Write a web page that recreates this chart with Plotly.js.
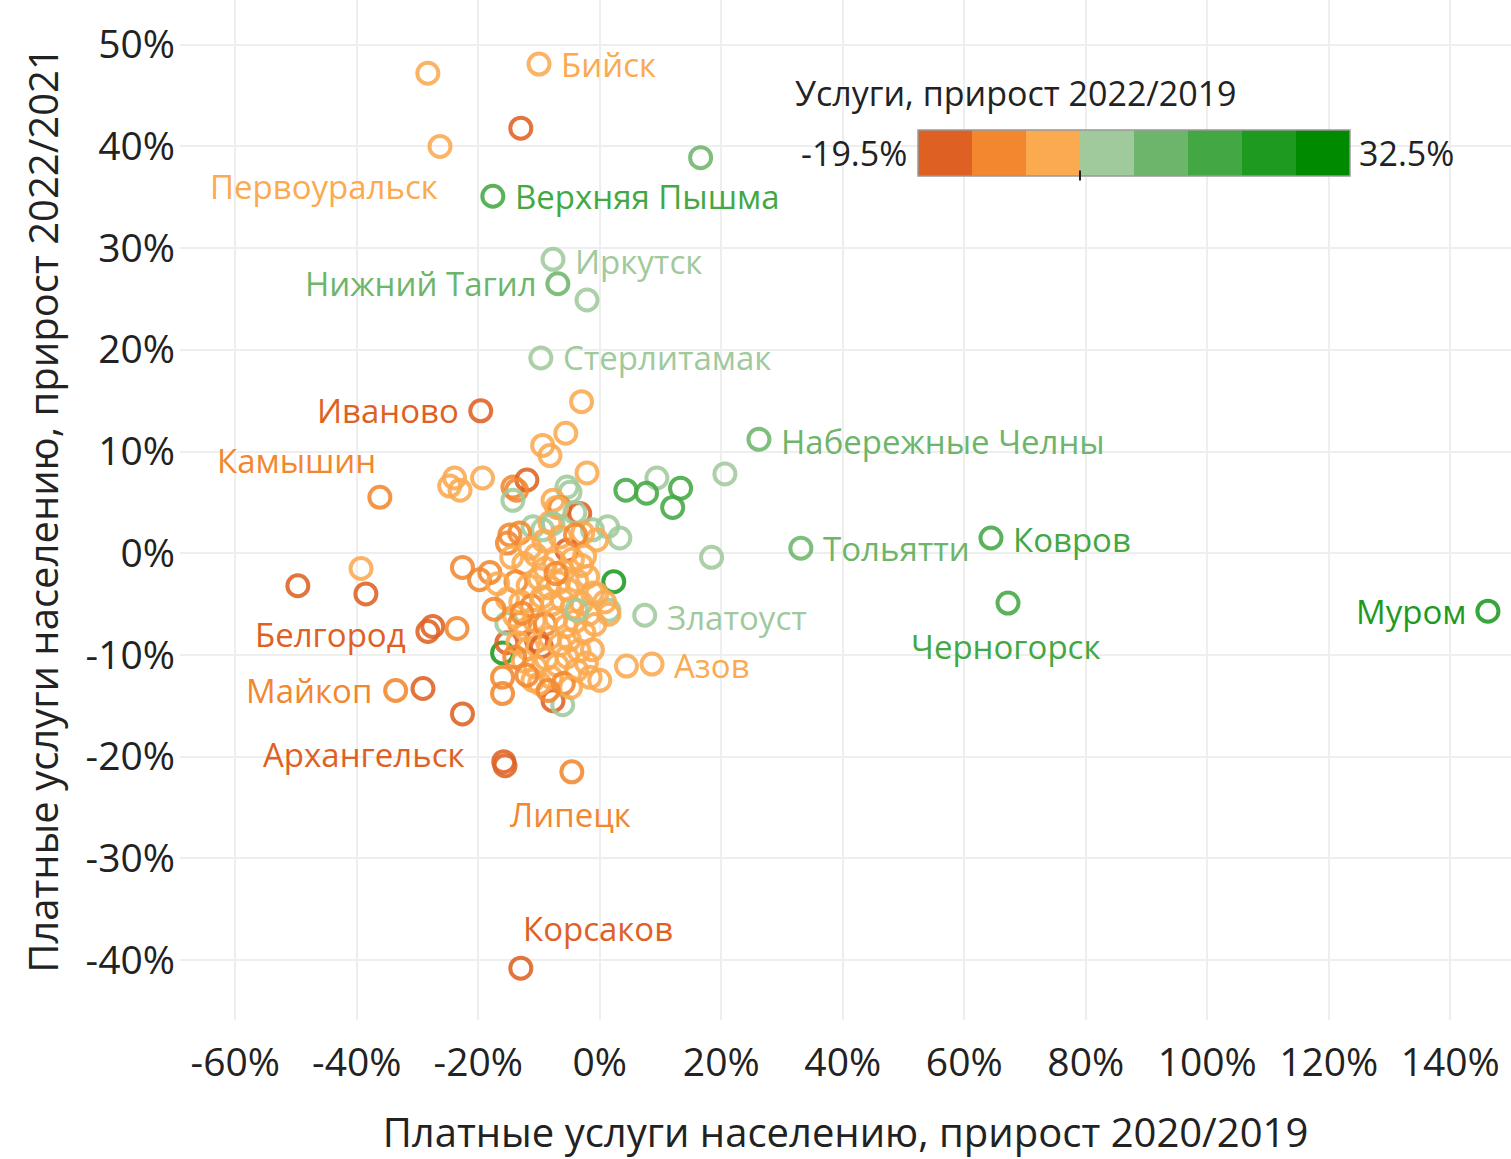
<!DOCTYPE html>
<html>
<head>
<meta charset="utf-8">
<script src="https://cdn.plot.ly/plotly-3.0.1.min.js"></script>
<style>html,body{margin:0;padding:0;background:#fff;}#chart{width:1511px;height:1159px;}</style>
</head>
<body>
<div id="chart"></div>
<script>
// Платные услуги населению, прирост 2020/2019 (%)
const growth2020 = [
 -10.0,-28.3,-13.0,-26.3,16.6,-17.6,-7.7,-6.9,-2.1,-9.7,
 -19.6,-3.0,-5.6,-9.4,-8.2,-2.1,26.2,20.6,9.4,4.3,
 7.7,13.3,12.0,-36.2,-23.9,-24.7,-23.0,-19.3,-14.3,-12.0,
 -13.7,-14.3,-5.4,-4.9,-7.7,-6.6,-3.3,-7.1,-4.1,-11.0,
 -9.4,-8.2,-7.7,-1.2,1.3,3.3,-2.8,-0.5,-14.8,-13.2,
 -15.2,-5.4,18.4,33.1,64.4,67.2,146.2,2.3,7.4,1.5,
 1.5,8.6,4.4,-49.7,-39.3,-38.5,-28.3,-27.5,-23.5,-33.6,
 -29.1,-22.6,-15.8,-15.6,-4.6,-13.0,-22.6,-19.8,-18.1,-16.0,
 -15.3,-16.0,-16.0,-7.7,-6.1,-15.3,-13.2,0.0,-1.6,-9.9,
 -11.0,-1.2,-1.2,-10.4,-14.5,-12.5,-10.5,-9.0,-7.5,-6.0,
 -4.5,-3.0,-2.0,-13.8,-11.8,-10.0,-8.3,-6.8,-5.2,-3.8,
 -0.5,-15.2,-13.0,-11.2,-9.5,-7.8,-6.2,-4.6,-3.0,-1.8,
 -14.0,-12.2,-10.8,-9.0,-7.2,-5.6,-4.0,-2.6,-0.8,-13.5,
 -11.8,-9.6,-8.2,-6.6,-5.0,-3.4,-12.6,-10.6,-8.8,-7.0,
 -5.4,-3.8,-2.2,-8.0,-6.0,-12.0,-4.8,-8.5,-14.0,-7.2,
 -11.5,-9.2,-6.5,-4.0,-3.8,-12.8,-17.4,-16.8,-2.5,0.8
];
// Платные услуги населению, прирост 2022/2021 (%)
const growth2022 = [
 48.1,47.2,41.8,40.0,38.9,35.1,28.9,26.5,24.9,19.2,
 14.0,14.9,11.8,10.6,9.6,7.9,11.2,7.8,7.4,6.2,
 5.9,6.4,4.5,5.5,7.4,6.6,6.2,7.4,6.5,7.2,
 6.2,5.2,6.5,6.0,5.2,4.5,3.9,4.5,4.0,2.6,
 2.3,3.0,2.9,2.3,2.6,1.5,2.0,1.3,1.8,2.0,
 1.0,0.3,-0.4,0.5,1.5,-4.9,-5.7,-2.8,-6.1,-5.6,
 -6.0,-10.9,-11.1,-3.2,-1.5,-4.0,-7.7,-7.2,-7.4,-13.5,
 -13.3,-15.8,-20.5,-20.9,-21.5,-40.8,-1.4,-2.6,-1.9,-9.8,
 -8.8,-12.2,-13.8,-14.5,-14.9,-6.9,-6.9,-12.5,-12.2,-12.8,
 -12.5,-9.5,-3.9,-8.6,-0.4,-1.0,-0.2,-1.5,-0.8,-1.8,
 -0.6,-1.2,-2.3,-2.8,-3.2,-2.5,-3.4,-2.9,-3.6,-2.7,
 -4.0,-4.5,-4.8,-5.2,-4.3,-5.0,-4.6,-5.4,-4.9,-6.0,
 -6.2,-7.5,-6.6,-7.0,-6.4,-7.2,-6.7,-7.8,-7.0,-8.8,
 -9.4,-9.2,-8.3,-9.0,-8.5,-9.6,-10.6,-11.2,-10.4,-11.0,
 -10.2,-11.5,-10.8,-12.2,-12.8,-12.0,-13.2,-13.5,-10.2,-2.0,
 0.5,1.2,1.6,1.8,-5.6,-5.9,-5.5,-3.0,-0.3,-4.8
];
// Услуги, прирост 2022/2019 (%) — цвет
const growth2022vs2019 = [
 -2,-3,-14,-2,12,15,3,12,3,2,
 -14,-3,-3,-3,-3,-3,11,3,3,14,
 14,14,14,-11,-3,-3,-3,-3,-10,-14,
 -10,3,3,3,-3,-9,-15,-3,3,3,
 3,-3,3,3,3,3,-3,-3,-9,-9,
 -9,-15,3,11,18,17,23,22,3,3,
 -3,-2,-2,-16,-2,-16,-16,-15,-11,-10,
 -16,-16,-16,-15,-11,-13.5,-10,-10,-10,21,
 -15,-10,-10,-15,3,3,-10,-3,-3,-3,
 -3,-3,-3,-15,-3,-3,-3,-3,-3,-3,
 -3,-3,-3,-9,-3,-3,-3,-3,-3,-3,
 -3,-3,-3,-9,-3,-3,-3,-3,-3,-3,
 -3,-3,-3,-9,-3,-3,-3,-3,-3,-3,
 -3,-15,-3,-3,-3,-3,-3,-3,-3,-3,
 -3,-3,-3,-3,-9,-9,-3,-9,-9,-9,
 -3,-3,-3,-9,3,-9,-9,-3,-3,-3
];
// Подписи городов: индекс точки, название
const labelIndex = [0,3,5,6,7,9,10,23,16,53,54,55,56,58,61,66,69,72,74,75];
const labelNames = ["Бийск","Первоуральск","Верхняя Пышма","Иркутск","Нижний Тагил","Стерлитамак","Иваново","Камышин","Набережные Челны","Тольятти","Ковров","Черногорск","Муром","Златоуст","Азов","Белгород","Майкоп","Архангельск","Липецк","Корсаков"];
// label placement (style only): [xanchor, xshift, yshift]
const labelPlace = [
 ["left",20,0],["right",0,-40],["left",20,0],["left",20,-2],["right",-19,0],["left",20,0],["right",-20,0],["right",-2,37],["left",20,-2],["left",20,0],
 ["left",20,-2],["center",-3,-43],["right",-20,0],["left",20,-2],["left",20,-1],["right",-20,-3],["right",-22,0],["right",-37,7],["center",-1,-43],["left",0,40]
];
// Tick labels
const xTickVals = [-60,-40,-20,0,20,40,60,80,100,120,140];
const xTickText = ["-60%","-40%","-20%","0%","20%","40%","60%","80%","100%","120%","140%"];
const yTickVals = [-40,-30,-20,-10,0,10,20,30,40,50];
const yTickText = ["-40%","-30%","-20%","-10%","0%","10%","20%","30%","40%","50%"];

const binColors = ["#DE6123","#F2872F","#FBAA50","#A0C99C","#6DB56B","#43A843","#1D9A1F","#008A00"];
const cMin = -19.5, cMax = 32.5;
const legendBins = [-16.25,-9.75,-3.25,3.25,9.75,16.25,22.75,29.25];

const colorscale = [];
binColors.forEach((c,i)=>{colorscale.push([i/8,c]);colorscale.push([(i+1)/8,c]);});
function colorFor(v){let i=Math.floor((v-cMin)/((cMax-cMin)/8));i=Math.max(0,Math.min(7,i));return binColors[i];}

const FONT = "Open Sans, Noto Sans, sans-serif";

const scatter = {
  type:'scatter', mode:'markers', x:growth2020, y:growth2022,
  marker:{symbol:'circle-open', size:21, color:growth2022vs2019, colorscale:colorscale, cmin:cMin, cmax:cMax, showscale:false, opacity:0.88, line:{width:4}},
  hoverinfo:'x+y', xaxis:'x', yaxis:'y'
};
const legendBar = {
  type:'heatmap', z:[legendBins], x:[0,1,2,3,4,5,6,7], y:[0],
  colorscale:colorscale, zmin:cMin, zmax:cMax, showscale:false, xaxis:'x2', yaxis:'y2', hoverinfo:'skip'
};

const annotations = labelIndex.map((idx,k)=>({
  x:growth2020[idx], y:growth2022[idx], xref:'x', yref:'y', text:labelNames[k], showarrow:false,
  xanchor:labelPlace[k][0], yanchor:'middle', xshift:labelPlace[k][1], yshift:labelPlace[k][2],
  font:{family:FONT, size:33, color:colorFor(growth2022vs2019[idx])}
}));
annotations.push({xref:'paper',yref:'paper',x:(793-180)/1331,y:1-93/1020,xanchor:'left',yanchor:'middle',showarrow:false,text:'Услуги, прирост 2022/2019',font:{family:FONT,size:34,color:'#222'}});
annotations.push({xref:'paper',yref:'paper',x:(909-180)/1331,y:1-153/1020,xanchor:'right',yanchor:'middle',showarrow:false,text:cMin.toFixed(1)+'%',font:{family:FONT,size:34,color:'#222'}});
annotations.push({xref:'paper',yref:'paper',x:(1357-180)/1331,y:1-153/1020,xanchor:'left',yanchor:'middle',showarrow:false,text:cMax.toFixed(1)+'%',font:{family:FONT,size:34,color:'#222'}});

const layout = {
  width:1511, height:1159,
  margin:{l:180, r:0, t:0, b:139},
  paper_bgcolor:'#fff', plot_bgcolor:'#fff',
  showlegend:false,
  font:{family:FONT, color:'#222'},
  xaxis:{range:[-69.1,150], tickmode:'array', tickvals:xTickVals, ticktext:xTickText, showgrid:true, gridcolor:'#eeeeee', gridwidth:2, zeroline:false, showline:false, ticks:'',
    tickfont:{family:FONT,size:39,color:'#222'}, ticklabelstandoff:16,
    title:{text:'Платные услуги населению, прирост 2020/2019', font:{family:FONT,size:40,color:'#222'}, standoff:38}},
  yaxis:{range:[-45.9,54.4], tickmode:'array', tickvals:yTickVals, ticktext:yTickText, showgrid:true, gridcolor:'#eeeeee', gridwidth:2, zeroline:false, showline:false, ticks:'',
    tickfont:{family:FONT,size:39,color:'#222'}, ticklabelstandoff:4,
    title:{text:'Платные услуги населению, прирост 2022/2021', font:{family:FONT,size:40,color:'#222'}, standoff:14}},
  xaxis2:{domain:[(918-180)/1331,(1350-180)/1331], range:[-0.5,7.5], visible:false, fixedrange:true, anchor:'y2'},
  yaxis2:{domain:[1-176/1020,1-130/1020], range:[-0.5,0.5], visible:false, fixedrange:true, anchor:'x2'},
  shapes:[
    {type:'line', xref:'x', yref:'paper', x0:0, x1:0, y0:0, y1:1, line:{color:'#aaaaaa', width:1.5, dash:'dot'}, layer:'below'},
    {type:'line', xref:'paper', yref:'y', x0:0, x1:1, y0:0, y1:0, line:{color:'#aaaaaa', width:1.5, dash:'dot'}, layer:'below'},
    {type:'rect', xref:'x2 domain', yref:'y2 domain', x0:0, x1:1, y0:0, y1:1, line:{color:'#999', width:1.5}},
    {type:'line', xref:'x2', yref:'y2 domain', x0:2.5, x1:2.5, y0:-0.1, y1:0.12, line:{color:'#222', width:2}}
  ],
  annotations:annotations
};

Plotly.newPlot('chart',[scatter,legendBar],layout,{displayModeBar:false,staticPlot:true});
</script>
</body>
</html>
